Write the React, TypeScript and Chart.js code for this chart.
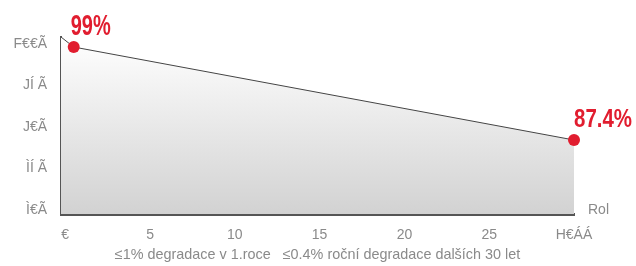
import React, { useEffect, useRef } from "react";
import { Chart, registerables } from "chart.js";

Chart.register(...registerables);

// ---- data ----
const years = [-0.25, 0.5, 30];
const efficiency = [100.25, 99, 87.4];
const pointLabels = ["", "99%", "87.4%"];
const yTickValues = [99.38, 94.2, 89.02, 83.85, 78.67];
const yTickLabels = ["F€€Ã", "JÍ Ã", "J€Ã", "ÌÍ Ã", "Ì€Ã"];
const xTickValues = [0, 5, 10, 15, 20, 25, 30];
const xTickLabels = ["€", "5", "10", "15", "20", "25", "H€ÁÁ"];
const xTitle = "≤1% degradace v 1.roce   ≤0.4% roční degradace dalších 30 let";
const unitLabel = "Rol";

// ---- styles ----
const RED = "#e11d2f";
const TICK_GRAY = "#8a8a8a";
const AXIS_DARK = "#555555";
const LABEL_STYLE = [
  null,
  { size: 30, width: 40, dx: -3, dy: -12 },
  { size: 26, width: 58, dx: 0, dy: -13 },
];

export default function App() {
  const ref = useRef<HTMLCanvasElement>(null);

  useEffect(() => {
    document.body.style.margin = "0";
    const canvas = ref.current!;
    Chart.defaults.font.family = "'Liberation Sans', Arial, sans-serif";

    const decor = {
      id: "decor",
      beforeDatasetsDraw(chart: any) {
        const { ctx, chartArea } = chart;
        const meta = chart.getDatasetMeta(0);
        const last = meta.data[meta.data.length - 1];
        ctx.save();
        ctx.strokeStyle = AXIS_DARK;
        ctx.lineWidth = 1;
        const x = Math.round(last.x) - 0.5;
        ctx.beginPath();
        ctx.moveTo(x, last.y);
        ctx.lineTo(x, chartArea.bottom);
        ctx.stroke();
        ctx.restore();
      },
      afterDatasetsDraw(chart: any) {
        const { ctx, chartArea } = chart;
        const meta = chart.getDatasetMeta(0);
        ctx.save();
        meta.data.forEach((pt: any, i: number) => {
          const st = LABEL_STYLE[i];
          const text = pointLabels[i];
          if (!st || !text) return;
          ctx.save();
          ctx.font = `bold ${st.size}px 'Liberation Sans Narrow', 'Liberation Sans', sans-serif`;
          const w = ctx.measureText(text).width;
          ctx.translate(pt.x + st.dx, pt.y + st.dy);
          ctx.scale(st.width / w, 1);
          ctx.fillStyle = RED;
          ctx.textAlign = "left";
          ctx.textBaseline = "alphabetic";
          ctx.fillText(text, 0, 0);
          ctx.restore();
        });
        ctx.font = "14px 'Liberation Sans', Arial, sans-serif";
        ctx.fillStyle = TICK_GRAY;
        ctx.textAlign = "left";
        ctx.textBaseline = "alphabetic";
        ctx.fillText(unitLabel, chartArea.right + 14, chartArea.bottom);
        ctx.restore();
      },
    };

    const chart = new Chart(canvas, {
      type: "line",
      data: {
        datasets: [
          {
            data: years.map((x, i) => ({ x, y: efficiency[i] })),
            borderColor: "#444444",
            borderWidth: 1,
            tension: 0,
            clip: false,
            fill: "start",
            backgroundColor: (c: any) => {
              const area = c.chart.chartArea;
              if (!area) return "#e0e0e0";
              const g = c.chart.ctx.createLinearGradient(0, area.top, 0, area.bottom);
              g.addColorStop(0, "#ffffff");
              g.addColorStop(1, "#d2d2d2");
              return g;
            },
            pointRadius: [0, 6, 6],
            pointHoverRadius: [0, 6, 6],
            pointBackgroundColor: RED,
            pointBorderColor: RED,
            pointBorderWidth: 0,
          },
        ],
      },
      options: {
        animation: false,
        responsive: false,
        devicePixelRatio: 1,
        layout: { padding: { left: 0, right: 62, top: 37, bottom: 0 } },
        plugins: { legend: { display: false }, tooltip: { enabled: false } },
        scales: {
          x: {
            type: "linear",
            min: -0.25,
            max: 30,
            afterBuildTicks: (s: any) => {
              s.ticks = xTickValues.map((v) => ({ value: v }));
            },
            afterFit: (s: any) => {
              s.height = 52;
            },
            ticks: {
              autoSkip: false,
              maxRotation: 0,
              padding: 13,
              color: TICK_GRAY,
              font: { size: 14 },
              callback: (_v: any, i: number) => xTickLabels[i],
            },
            grid: { display: false, drawTicks: false },
            border: { display: true, color: AXIS_DARK, width: 3 },
            title: {
              display: true,
              text: xTitle,
              color: TICK_GRAY,
              font: { size: 14.4 },
              padding: { top: 0, bottom: 2 },
            },
          },
          y: {
            type: "linear",
            min: 78.17,
            max: 100.25,
            afterBuildTicks: (s: any) => {
              s.ticks = yTickValues.map((v) => ({ value: v }));
            },
            afterFit: (s: any) => {
              s.width = 61;
            },
            ticks: {
              autoSkip: false,
              padding: 14,
              color: TICK_GRAY,
              font: { size: 14 },
              callback: (_v: any, i: number) => yTickLabels[i],
            },
            grid: { display: false, drawTicks: false },
            border: { display: true, color: AXIS_DARK, width: 2 },
          },
        },
      },
      plugins: [decor],
    });

    return () => chart.destroy();
  }, []);

  return <canvas ref={ref} width={636} height={266} style={{ display: "block" }} />;
}
